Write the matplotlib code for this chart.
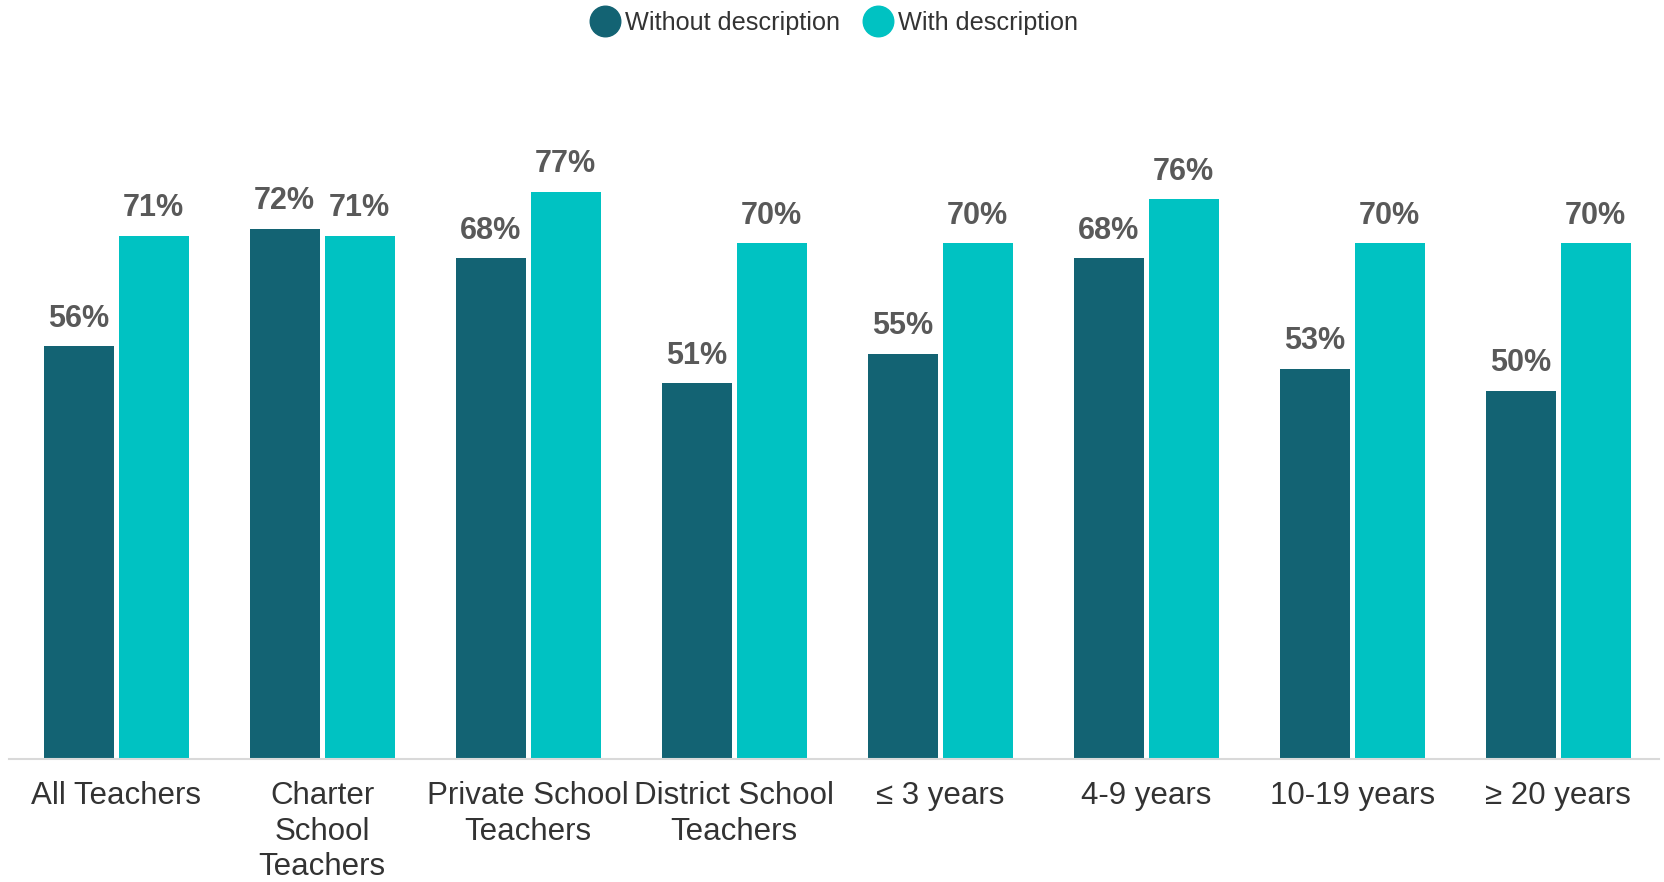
import numpy as np
import matplotlib.pyplot as plt
from matplotlib.lines import Line2D

plt.rcParams['font.family'] = ['Liberation Sans', 'DejaVu Sans']

categories = ['All Teachers', 'Charter\nSchool\nTeachers', 'Private School\nTeachers',
              'District School\nTeachers', '≤ 3 years', '4-9 years', '10-19 years', '≥ 20 years']
without_desc = [56, 72, 68, 51, 55, 68, 53, 50]
with_desc = [71, 71, 77, 70, 70, 76, 70, 70]
series_names = ['Without description', 'With description']

dark = '#136373'
cyan = '#00C2C2'

fig = plt.figure(figsize=(16.65, 8.82), dpi=100)
ax = fig.add_axes([0.0054, 0.1395, 0.991, 0.76])

x = np.arange(len(categories))
w = 0.34
gap = 0.024
b1 = ax.bar(x - (w + gap) / 2, without_desc, w, color=dark)
b2 = ax.bar(x + (w + gap) / 2, with_desc, w, color=cyan)

for bars, vals in [(b1, without_desc), (b2, with_desc)]:
    for bar, v in zip(bars, vals):
        ax.annotate(f'{v}%', (bar.get_x() + bar.get_width() / 2, v),
                    xytext=(0, 9), textcoords='offset points',
                    ha='center', va='bottom', fontsize=22, fontweight='bold', color='#595959')

ax.set_xlim(-0.52, 7.49)
ax.set_ylim(0, 91)
ax.set_xticks(x)
ax.set_xticklabels(categories, fontsize=22.5, color='#333333', linespacing=1.24)
ax.tick_params(axis='x', length=0, pad=16)
ax.set_yticks([])
for s in ['top', 'right', 'left']:
    ax.spines[s].set_visible(False)
ax.spines['bottom'].set_color('#d9d9d9')
ax.spines['bottom'].set_linewidth(1.5)

handles = [Line2D([], [], marker='o', linestyle='', markersize=22, color=c) for c in (dark, cyan)]
fig.legend(handles, series_names, loc='center', bbox_to_anchor=(0.4995, 0.974), ncol=2,
           frameon=False, fontsize=18.2, handletextpad=0.0, columnspacing=0.7,
           handlelength=1.6, labelcolor='#333333')

fig.savefig('out.png', dpi=100)
